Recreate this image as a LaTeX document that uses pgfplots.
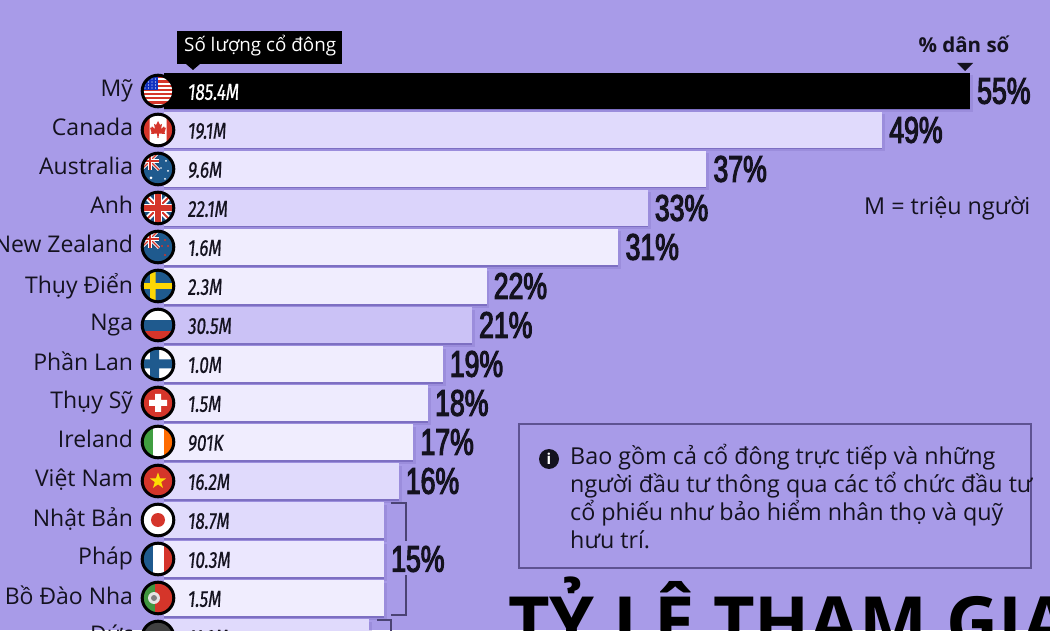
\documentclass[border=0pt]{standalone}
\usepackage{fontspec}
\usepackage{pgfplots}
\pgfplotsset{compat=1.18}
\usetikzlibrary{shapes.geometric}
\setmainfont{Open Sans}
\newfontfamily\pctfont{Liberation Sans}[FakeStretch=0.72,BoldFont=*,BoldFeatures={FakeBold=3}]
\newfontfamily\cntfont{Fira Sans}[FakeStretch=0.74,FakeSlant=0.1,FakeBold=0.6]
\definecolor{bg}{HTML}{A89BE8}
\definecolor{edge}{HTML}{7D6FC2}
\definecolor{ink}{HTML}{14121F}
\definecolor{fblue}{HTML}{1F5A8E}
\definecolor{fred}{HTML}{D5352A}
\definecolor{c1}{HTML}{E0DAFC}
\definecolor{c2}{HTML}{EBE7FE}
\definecolor{c3}{HTML}{DBD4FB}
\definecolor{c4}{HTML}{F0EDFE}
\definecolor{c5}{HTML}{CBC2F6}
\definecolor{c6}{HTML}{EEEBFE}
\newcommand\Bar[6]{% colour, pct, row, percent label, count, count colour
  \addplot[xbar,bar width=37pt,bar shift=-3pt,draw=none,fill=edge,opacity=.3,forget plot] coordinates {(#2.2,#3)};
  \addplot[xbar,bar width=36pt,bar shift=-1.5pt,draw=none,fill=edge,forget plot] coordinates {(#2,#3)};
  \addplot[xbar,bar width=36pt,bar shift=0pt,draw=none,fill=#1,forget plot,
    nodes near coords={#4},
    nodes near coords style={anchor=west,inner sep=0pt,xshift=7pt,font=\pctfont\bfseries\fontsize{37}{37}\selectfont,text=ink}]
    coordinates {(#2,#3)};
  \addplot[xbar,bar width=1pt,bar shift=0pt,draw=none,fill=none,forget plot,
    nodes near coords={#5},
    nodes near coords style={anchor=west,inner sep=0pt,xshift=23pt,yshift=-1pt,font=\cntfont\fontsize{23}{23}\selectfont,text=#6}]
    coordinates {(0,#3)};
}
\newcommand\flag[2]{%
  \begin{scope}[shift={(158,{630-91-39*#1})}]
    \begin{scope}
      \clip (0,0) circle (16);
      #2
    \end{scope}
    \draw[black,line width=3pt] (0,0) circle (15.8);
  \end{scope}}
\newcommand\uj[1]{% union jack centred at origin, half size #1
  \begin{scope}[scale=#1]
    \fill[fblue!90!black] (-1,-1) rectangle (1,1);
    \draw[white,line width=#1*0.32pt] (-1,-1)--(1,1) (-1,1)--(1,-1);
    \draw[fred,line width=#1*0.12pt] (-1,-1)--(1,1) (-1,1)--(1,-1);
    \draw[white,line width=#1*0.5pt] (-1,0)--(1,0) (0,-1)--(0,1);
    \draw[fred,line width=#1*0.3pt] (-1,0)--(1,0) (0,-1)--(0,1);
  \end{scope}}
\begin{document}
\begin{tikzpicture}
\fill[bg] (0pt,0pt) rectangle (1050pt,630pt);
\useasboundingbox (0pt,0pt) rectangle (1050pt,630pt);
\clip (0pt,0pt) rectangle (1050pt,630pt);
\begin{axis}[
  at={(164.25pt,-46pt)},anchor=south west,
  scale only axis,width=885.75pt,height=676pt,
  xmin=0,xmax=60.46,ymin=-2.333,ymax=15,
  y dir=reverse,
  axis line style={draw=none},
  tick style={draw=none},
  xtick=\empty,
  ytick={0,1,2,3,4,5,6,7,8,9,10,11,12,13,14},
  yticklabels={Mỹ,Canada,Australia,Anh,New Zealand,Thụy Điển,Nga,Phần Lan,Thụy Sỹ,Ireland,Việt Nam,Nhật Bản,Pháp,Bồ Đào Nha,Đức},
  yticklabel shift=31pt,
  typeset ticklabels with strut,
  yticklabel style={font=\fontsize{23}{24}\selectfont,text=ink,inner sep=0pt,yshift=-0.7pt},
  clip=false,
]
\Bar{black}{55}{0}{55\%}{185.4M}{white}
\Bar{c1}{49}{1}{49\%}{19.1M}{ink}
\Bar{c2}{37}{2}{37\%}{9.6M}{ink}
\Bar{c3}{33}{3}{33\%}{22.1M}{ink}
\Bar{c4}{31}{4}{31\%}{1.6M}{ink}
\Bar{c4}{22}{5}{22\%}{2.3M}{ink}
\Bar{c5}{21}{6}{21\%}{30.5M}{ink}
\Bar{c4}{19}{7}{19\%}{1.0M}{ink}
\Bar{c6}{18}{8}{18\%}{1.5M}{ink}
\Bar{c4}{17}{9}{17\%}{901K}{ink}
\Bar{c1}{16}{10}{16\%}{16.2M}{ink}
\Bar{c1}{15}{11}{}{18.7M}{ink}
\Bar{c2}{15}{12}{15\%}{10.3M}{ink}
\Bar{c4}{15}{13}{}{1.5M}{ink}
\Bar{c1}{14}{14}{}{11.9M}{ink}
\end{axis}
\begin{scope}[x=1pt,y=1pt]
% flags
\flag{0}{\fill[white] (-17,-17) rectangle (17,17);
  \foreach \k in {0,...,6} {\fill[fred] (-17,{12.6-\k*4.2}) rectangle (17,{14.7-\k*4.2});}
  \fill[fred] (-17,-16) rectangle (17,-14);
  \fill[blue!45!fblue] (-17,0.5) rectangle (0,17);
  \foreach \a in {-13,-9.5,-6,-2.5} \foreach \b in {3,6,9,12} {\fill[white] (\a,\b) circle (.7);}}
\flag{1}{\fill[white] (-17,-17) rectangle (17,17);
  \fill[fred] (-17,-17) rectangle (-8.5,17) (8.5,-17) rectangle (17,17);
  \fill[fred] (0,9)--(2,5)--(4,6)--(3,1)--(6,3.5)--(7,1.5)--(8,2.5)--(6.5,-2.5)--(7,-4)--(1,-3.5)--(.5,-8)--(-.5,-8)--(-1,-3.5)--(-7,-4)--(-6.5,-2.5)--(-8,2.5)--(-7,1.5)--(-6,3.5)--(-3,1)--(-4,6)--(-2,5)--cycle;}
\flag{2}{\fill[fblue] (-17,-17) rectangle (17,17);
  \begin{scope}[shift={(-8,8)}]\uj{9}\end{scope}
  \fill[white] (-7,-9) circle (1.5) (8,8) circle (1) (10,-2) circle (1) (3,1) circle (.8) (7,-10) circle (1);}
\flag{3}{\uj{17}}
\flag{4}{\fill[fblue] (-17,-17) rectangle (17,17);
  \begin{scope}[shift={(-8,8)}]\uj{9}\end{scope}
  \fill[fred] (7,7) circle (1.2) (10,1) circle (1.2) (4,1) circle (1.2) (7,-8) circle (1.2);}
\flag{5}{\fill[fblue] (-17,-17) rectangle (17,17);
  \fill[yellow!75!orange] (-17,-2.8) rectangle (17,2.8) (-8,-17) rectangle (-2.4,17);}
\flag{6}{\fill[white] (-17,5) rectangle (17,17);
  \fill[fblue] (-17,-6) rectangle (17,5);
  \fill[fred] (-17,-17) rectangle (17,-6);}
\flag{7}{\fill[white] (-17,-17) rectangle (17,17);
  \fill[fblue] (-17,-4.5) rectangle (17,4.5) (-8,-17) rectangle (1,17);}
\flag{8}{\fill[fred] (-17,-17) rectangle (17,17);
  \fill[white] (-9,-3) rectangle (9,3) (-3,-9) rectangle (3,9);}
\flag{9}{\fill[white] (-17,-17) rectangle (17,17);
  \fill[green!50!black!75!white] (-17,-17) rectangle (-5.5,17);
  \fill[orange!85!red] (5.5,-17) rectangle (17,17);}
\flag{10}{\fill[fred] (-17,-17) rectangle (17,17);
  \node[star,star points=5,star point ratio=2.5,fill=yellow!80!orange,inner sep=0pt,minimum size=17pt] at (0,0) {};}
\flag{11}{\fill[white] (-17,-17) rectangle (17,17);
  \fill[fred] (0,0) circle (7);}
\flag{12}{\fill[white] (-17,-17) rectangle (17,17);
  \fill[fblue] (-17,-17) rectangle (-5.5,17);
  \fill[fred] (5.5,-17) rectangle (17,17);}
\flag{13}{\fill[fred] (-17,-17) rectangle (17,17);
  \fill[green!45!black!75!white] (-17,-17) rectangle (-3,17);
  \fill[white!80!gray] (-4,0) circle (6);
  \fill[gray] (-4,0) circle (3);}
\flag{14}{\fill[black!75] (-17,5) rectangle (17,17);
  \fill[fred] (-17,-6) rectangle (17,5);
  \fill[yellow!80!orange] (-17,-17) rectangle (17,-6);}
% brackets
\draw[edge!60!black,line width=1.3pt]
  (391,630-503)--(406,630-503)--(406,630-541)
  (406,630-575)--(406,630-615)--(391,630-615)
  (377,630-620)--(391,630-620)--(391,630-640);
% header call-outs
\fill[black] (177,630-31) rectangle (342,630-64);
\fill[black] (186,630-64)--(200,630-64)--(193,630-70)--cycle;
\node[white,anchor=base west,inner sep=0pt,font=\fontsize{18.8}{18.8}\selectfont] at (184,630-52) {Số lượng cổ đông};
\node[ink,anchor=base,inner sep=0pt,font=\bfseries\fontsize{20.5}{20.5}\selectfont] at (964,630-53) {\% dân số};
\fill[ink] (957,630-63)--(973,630-63)--(965,630-71)--cycle;
\node[ink,anchor=base west,inner sep=0pt,font=\fontsize{23.3}{23.3}\selectfont] at (864,630-215) {M = triệu người};
% note box
\draw[edge!75!black,line width=1.5pt] (519,630-424) rectangle (1031,630-568);
\fill[ink] (549,630-459) circle (10);
\node[white,inner sep=0pt,font=\bfseries\fontsize{15}{15}\selectfont] at (549,630-459) {i};
\node[ink,anchor=base west,inner sep=0pt,font=\fontsize{23.3}{23.3}\selectfont] at (570,630-464) {Bao gồm cả cổ đông trực tiếp và những};
\node[ink,anchor=base west,inner sep=0pt,font=\fontsize{23.3}{23.3}\selectfont] at (570,630-492) {người đầu tư thông qua các tổ chức đầu tư};
\node[ink,anchor=base west,inner sep=0pt,font=\fontsize{23.3}{23.3}\selectfont] at (570,630-520) {cổ phiếu như bảo hiểm nhân thọ và quỹ};
\node[ink,anchor=base west,inner sep=0pt,font=\fontsize{23.3}{23.3}\selectfont] at (570,630-548) {hưu trí.};
% title
\node[black,anchor=base west,inner sep=0pt,font=\bfseries\fontsize{72}{72}\selectfont] at (508,630-648) {TỶ LỆ THAM GIA};
\end{scope}
\end{tikzpicture}
\end{document}
